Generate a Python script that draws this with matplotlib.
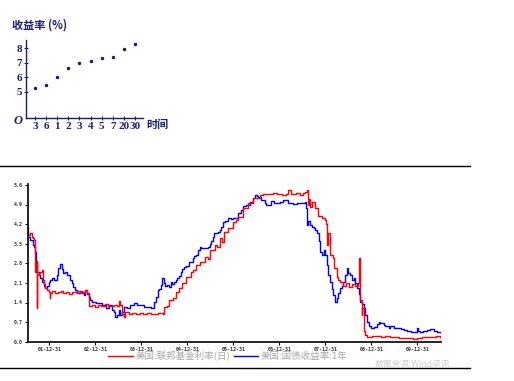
import numpy as np
import pandas as pd
import matplotlib
matplotlib.use("Agg")
import matplotlib.pyplot as plt
from matplotlib.lines import Line2D

plt.rcParams['font.family'] = ['Noto Sans CJK SC', 'DejaVu Sans']

# ---------------- top chart data ----------------
term_labels = ["3", "6", "1", "2", "3", "4", "5", "7", "20", "30"]
term_yields = [5.23, 5.46, 5.99, 6.66, 7.00, 7.12, 7.30, 7.41, 7.92, 8.29]
top_yticks = [5, 6, 7, 8]

# ---------------- bottom chart data (decimal years) ----------------
ffr_t = [2001.52, 2001.54, 2001.57, 2001.61, 2001.65, 2001.67, 2001.68, 2001.69, 2001.70, 2001.72,
         2001.73, 2001.76, 2001.79, 2001.83, 2001.85, 2001.87, 2001.90, 2001.94, 2001.98, 2002.00,
         2002.02, 2002.06, 2002.12, 2002.18, 2002.24, 2002.30, 2002.36, 2002.42, 2002.48, 2002.54,
         2002.60, 2002.66, 2002.72, 2002.78, 2002.81, 2002.85, 2002.92, 2002.99, 2003.06, 2003.13,
         2003.20, 2003.27, 2003.34, 2003.41, 2003.47, 2003.51, 2003.54, 2003.58, 2003.62, 2003.65,
         2003.72, 2003.80, 2003.88, 2003.96, 2004.04, 2004.12, 2004.20, 2004.28, 2004.36, 2004.46,
         2004.49, 2004.56, 2004.60, 2004.68, 2004.75, 2004.82, 2004.89, 2004.97, 2005.07, 2005.12,
         2005.19, 2005.26, 2005.37, 2005.45, 2005.48, 2005.59, 2005.65, 2005.70, 2005.75, 2005.80,
         2005.88, 2005.99, 2006.05, 2006.10, 2006.21, 2006.32, 2006.43, 2006.57, 2006.65, 2006.75,
         2006.85, 2006.95, 2007.05, 2007.15, 2007.19, 2007.25, 2007.35, 2007.45, 2007.52, 2007.56,
         2007.59, 2007.61, 2007.64, 2007.67, 2007.70, 2007.77, 2007.84, 2007.93, 2007.99, 2008.02,
         2008.04, 2008.06, 2008.10, 2008.17, 2008.19, 2008.25, 2008.27, 2008.32, 2008.39, 2008.45,
         2008.52, 2008.58, 2008.64, 2008.70, 2008.72, 2008.74, 2008.76, 2008.79, 2008.80, 2008.83,
         2008.86, 2008.90, 2009.00, 2009.10, 2009.20, 2009.30, 2009.40, 2009.50, 2009.60, 2009.70,
         2009.80, 2009.90, 2009.99, 2010.10, 2010.20, 2010.30, 2010.40, 2010.48, 2010.51]
ffr_v = [4.08, 3.81, 3.87, 3.75, 3.70, 3.65, 3.40, 2.50, 2.90, 1.19,
         2.40, 2.44, 2.50, 2.55, 2.20, 2.05, 1.91, 1.85, 1.79, 1.55,
         1.75, 1.80, 1.73, 1.78, 1.82, 1.75, 1.77, 1.72, 1.79, 1.76,
         1.80, 1.74, 1.78, 1.85, 1.75, 1.29, 1.32, 1.25, 1.30, 1.27,
         1.33, 1.26, 1.29, 1.31, 1.28, 1.45, 1.30, 1.00, 0.90, 1.05,
         1.00, 1.02, 0.98, 1.01, 0.99, 1.02, 1.00, 0.98, 1.01, 1.00,
         1.25, 1.29, 1.49, 1.55, 1.79, 1.91, 2.09, 2.32, 2.50, 2.55,
         2.74, 2.86, 3.04, 2.95, 3.28, 3.46, 3.40, 3.69, 3.55, 3.93,
         4.05, 4.29, 4.35, 4.47, 4.77, 4.95, 5.13, 5.24, 5.28, 5.26,
         5.30, 5.27, 5.25, 5.29, 5.42, 5.27, 5.30, 5.24, 5.30, 5.33,
         5.42, 4.90, 5.10, 4.80, 5.00, 4.77, 4.50, 4.41, 4.35, 4.20,
         3.46, 3.90, 3.10, 2.98, 2.62, 2.30, 2.20, 2.15, 2.00, 2.10,
         1.95, 2.05, 1.98, 2.10, 2.98, 1.80, 1.50, 0.95, 1.20, 0.40,
         0.25, 0.18, 0.20, 0.21, 0.18, 0.19, 0.16, 0.18, 0.15, 0.12,
         0.13, 0.11, 0.13, 0.18, 0.16, 0.17, 0.19, 0.17, 0.05]

ust1y_t = [2001.52, 2001.57, 2001.63, 2001.65, 2001.67, 2001.68, 2001.70, 2001.72, 2001.76, 2001.79,
           2001.83, 2001.87, 2001.90, 2001.94, 2001.98, 2002.01, 2002.05, 2002.09, 2002.12, 2002.16,
           2002.19, 2002.23, 2002.26, 2002.30, 2002.34, 2002.38, 2002.41, 2002.45, 2002.48, 2002.52,
           2002.56, 2002.60, 2002.63, 2002.67, 2002.70, 2002.74, 2002.78, 2002.81, 2002.85, 2002.89,
           2002.92, 2003.00, 2003.07, 2003.14, 2003.22, 2003.29, 2003.36, 2003.40, 2003.43, 2003.47,
           2003.51, 2003.54, 2003.58, 2003.62, 2003.69, 2003.76, 2003.83, 2003.91, 2003.98, 2004.05,
           2004.13, 2004.20, 2004.27, 2004.31, 2004.35, 2004.38, 2004.42, 2004.44, 2004.49, 2004.52,
           2004.56, 2004.60, 2004.64, 2004.67, 2004.71, 2004.75, 2004.78, 2004.82, 2004.86, 2004.89,
           2004.93, 2004.96, 2005.04, 2005.11, 2005.15, 2005.19, 2005.22, 2005.26, 2005.30, 2005.33,
           2005.40, 2005.44, 2005.48, 2005.51, 2005.55, 2005.58, 2005.62, 2005.66, 2005.70, 2005.73,
           2005.77, 2005.81, 2005.88, 2005.95, 2005.98, 2006.09, 2006.16, 2006.20, 2006.28, 2006.35,
           2006.43, 2006.46, 2006.50, 2006.53, 2006.60, 2006.68, 2006.71, 2006.82, 2006.89, 2006.93,
           2007.00, 2007.08, 2007.19, 2007.30, 2007.37, 2007.45, 2007.52, 2007.56, 2007.58, 2007.60,
           2007.63, 2007.67, 2007.70, 2007.74, 2007.78, 2007.81, 2007.85, 2007.88, 2007.92, 2007.96,
           2007.99, 2008.03, 2008.06, 2008.10, 2008.14, 2008.17, 2008.21, 2008.25, 2008.28, 2008.32,
           2008.36, 2008.39, 2008.43, 2008.47, 2008.50, 2008.54, 2008.58, 2008.61, 2008.65, 2008.69,
           2008.72, 2008.76, 2008.79, 2008.83, 2008.87, 2008.90, 2008.94, 2008.98, 2009.05, 2009.12,
           2009.16, 2009.19, 2009.27, 2009.30, 2009.38, 2009.41, 2009.49, 2009.56, 2009.63, 2009.70,
           2009.78, 2009.85, 2009.92, 2009.99, 2010.02, 2010.06, 2010.12, 2010.20, 2010.27, 2010.35,
           2010.42, 2010.51]
ust1y_v = [3.75, 3.63, 3.55, 3.46, 3.40, 3.22, 2.90, 2.50, 2.38, 2.26,
           2.15, 2.00, 1.91, 2.00, 2.15, 2.20, 2.26, 2.20, 2.20, 2.38,
           2.62, 2.77, 2.60, 2.44, 2.50, 2.38, 2.40, 2.20, 2.10, 1.97,
           1.85, 1.73, 1.75, 1.80, 1.73, 1.67, 1.85, 1.70, 1.61, 1.50,
           1.43, 1.40, 1.37, 1.31, 1.19, 1.31, 1.13, 1.07, 0.89, 0.95,
           1.13, 0.95, 1.07, 1.25, 1.19, 1.31, 1.37, 1.31, 1.31, 1.25,
           1.25, 1.19, 1.43, 1.60, 1.85, 1.90, 2.03, 2.26, 2.10, 2.00,
           2.03, 1.95, 2.15, 2.05, 2.15, 2.20, 2.26, 2.35, 2.50, 2.60,
           2.68, 2.72, 2.86, 2.98, 3.05, 3.10, 3.28, 3.40, 3.35, 3.34,
           3.36, 3.40, 3.50, 3.58, 3.75, 3.87, 3.90, 3.93, 3.99, 4.10,
           4.29, 4.30, 4.41, 4.38, 4.41, 4.59, 4.70, 4.83, 4.90, 5.00,
           5.13, 5.24, 5.20, 5.18, 5.07, 4.95, 4.89, 5.03, 4.95, 4.95,
           5.00, 5.07, 4.95, 4.91, 4.95, 4.95, 4.95, 4.98, 4.77, 4.17,
           4.30, 4.17, 4.10, 4.05, 4.00, 3.87, 3.60, 3.22, 3.10, 3.28,
           3.10, 2.74, 2.40, 2.15, 1.90, 1.67, 1.43, 1.55, 1.75, 1.91,
           2.00, 2.15, 2.40, 2.62, 2.45, 2.38, 2.20, 2.26, 2.10, 1.91,
           1.70, 1.43, 1.35, 1.19, 0.95, 0.72, 0.55, 0.48, 0.54, 0.65,
           0.72, 0.68, 0.60, 0.55, 0.50, 0.55, 0.48, 0.50, 0.45, 0.42,
           0.38, 0.36, 0.36, 0.48, 0.40, 0.36, 0.40, 0.42, 0.45, 0.38,
           0.36, 0.30]

date_ticks = ["01-12-31", "02-12-31", "03-12-31", "04-12-31", "05-12-31",
              "06-12-31", "07-12-31", "08-12-31", "09-12-31"]
rate_ticks = [0.0, 0.7, 1.4, 2.1, 2.8, 3.5, 4.2, 4.9, 5.6]
series_names = ["美国:联邦基金利率(日)", "美国:国债收益率:1年"]
source_text = "数据来源:Wind资讯"


def to_dt(y):
    y = np.asarray(y, dtype=float)
    yr = np.floor(y).astype(int)
    return pd.to_datetime([f"{a}-01-01" for a in yr]) + pd.to_timedelta((y - yr) * 365.25, unit="D")


W, H = 514, 381
fig = plt.figure(figsize=(W / 100, H / 100), dpi=100)

navy = "#1e1e70"

# ---------------- top chart ----------------
ax1 = fig.add_axes([26 / W, 1 - 118.3 / H, (143 - 26) / W, (118.3 - 40) / H])
xpos = np.arange(len(term_labels))
ax1.plot(xpos, term_yields, ls="none", marker="o", ms=1.5, color=navy)
ax1.set_xlim(-0.81, 9.72)
ax1.set_ylim(3.17, 8.57)
for s in ["top", "right"]:
    ax1.spines[s].set_visible(False)
for s in ["left", "bottom"]:
    ax1.spines[s].set_color(navy)
    ax1.spines[s].set_linewidth(1.0)
ax1.set_xticks(xpos)
ax1.set_xticklabels(term_labels)
ax1.set_yticks(top_yticks)
ax1.set_yticklabels([str(v) for v in top_yticks])
ax1.tick_params(axis="both", colors=navy, direction="inout", length=3, width=0.8, pad=1.5)
for lab in ax1.get_xticklabels() + ax1.get_yticklabels():
    lab.set_fontfamily("Liberation Serif")
    lab.set_fontweight("bold")
    lab.set_fontsize(8)
    lab.set_color(navy)
fig.text(12 / W, 1 - 25 / H, "收益率 (%)", fontsize=8, fontweight="bold", color=navy,
         va="center", ha="left", family=["Noto Sans CJK SC", "DejaVu Sans"])
fig.text(146 / W, 1 - 124 / H, "时间", fontsize=8, fontweight="bold", color=navy,
         va="center", ha="left", family=["Noto Sans CJK SC", "DejaVu Sans"])
fig.text(18.5 / W, 1 - 121 / H, "O", fontsize=9, fontweight="bold", style="italic", color=navy,
         va="center", ha="center", family="Liberation Serif")

# ---------------- separator lines ----------------
fig.add_artist(Line2D([0, 470 / W], [1 - 166 / H, 1 - 166 / H], color="black", lw=1.0,
                      transform=fig.transFigure))
fig.add_artist(Line2D([0, 470 / W], [1 - 368.3 / H, 1 - 368.3 / H], color="black", lw=1.0,
                      transform=fig.transFigure))

# ---------------- bottom chart ----------------
ax2 = fig.add_axes([27.5 / W, 1 - 341.7 / H, (441 - 27.5) / W, (341.7 - 183.5) / H])
hb, = ax2.plot(to_dt(ust1y_t), ust1y_v, color="#0000ff", lw=1.0, drawstyle="steps-post")
hr, = ax2.plot(to_dt(ffr_t), ffr_v, color="#ff0000", lw=1.0, drawstyle="steps-post")
ax2.set_xlim(to_dt([2001.52])[0], to_dt([2010.51])[0])
ax2.set_ylim(0, 5.65)
for s in ["top", "right"]:
    ax2.spines[s].set_visible(False)
for s in ["left", "bottom"]:
    ax2.spines[s].set_linewidth(1.2)
tick_dates = pd.to_datetime(["20" + t for t in date_ticks], format="%Y-%m-%d")
ax2.set_xticks(tick_dates)
ax2.set_xticklabels(date_ticks)
ax2.set_yticks(rate_ticks)
ax2.set_yticklabels([f"{v:.1f}" for v in rate_ticks])
ax2.tick_params(axis="both", direction="out", length=2.5, width=0.8, pad=1.0, labelsize=3.6,
                labelcolor="#333333")
for lab in ax2.get_xticklabels() + ax2.get_yticklabels():
    lab.set_fontfamily("DejaVu Sans Mono")
    lab.set_fontweight("bold")

leg = fig.legend([hr, hb], series_names, loc="center", bbox_to_anchor=(228 / W, 1 - 356 / H),
                 ncol=2, frameon=False, fontsize=6.8, handlelength=2.6, handletextpad=0.25,
                 columnspacing=0.4, borderpad=0, labelcolor="#a8a8a8")
fig.text(412 / W, 1 - 364 / H, source_text, fontsize=6.3, color="#cfcfcf", ha="center", va="center")

fig.savefig("out.png", dpi=100)
